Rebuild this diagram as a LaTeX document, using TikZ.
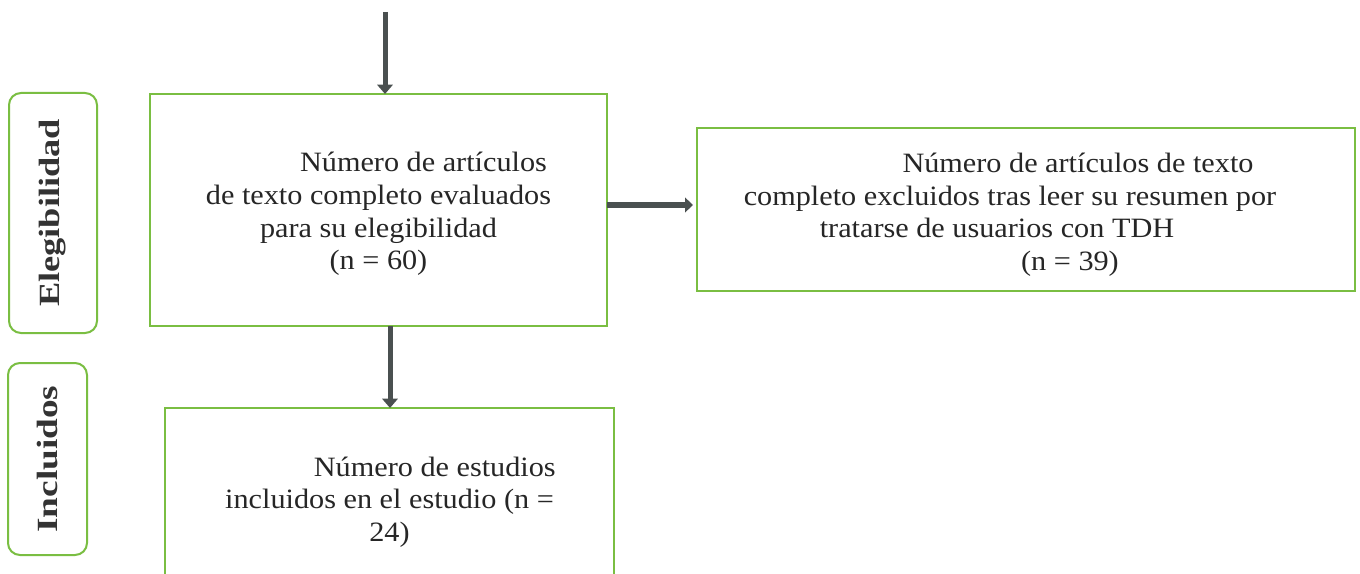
\documentclass[tikz,border=0pt]{standalone}
\usepackage{fontspec}
\setmainfont{Liberation Serif}
\newfontfamily\bodyfont{Liberation Serif}[FakeStretch=1.08]
\usepackage{graphicx}
\usetikzlibrary{arrows.meta}
\definecolor{boxgreen}{RGB}{122,190,66}
\definecolor{arrgray}{RGB}{74,80,80}
\begin{document}
\begin{tikzpicture}[x=0.75pt,y=-0.75pt,
  flowbox/.style={draw=boxgreen,line width=1.5pt,inner sep=0pt,outer sep=0pt},
  flowtext/.style={inner sep=0pt,align=center,font=\bodyfont\fontsize{21}{24.5}\selectfont,text=black!85},
  sidebox/.style={draw=boxgreen,line width=1.5pt,rounded corners=9pt,inner sep=0pt,outer sep=0pt},
  sidelabel/.style={rotate=90,inner sep=0pt,font=\bfseries\fontsize{22}{24}\selectfont,text=black!80},
  varr/.style={draw=arrgray,line width=3.75pt,-{Triangle[width=11.5pt,length=7pt]}},
  harr/.style={draw=arrgray,line width=5pt,-{Triangle[width=11pt,length=6pt]}}]
\useasboundingbox (0,0) rectangle (1360,574);
\clip (0,0) rectangle (1360,574);
\fill[white] (0,0) rectangle (1360,574);

\node[sidebox,minimum width=66pt,minimum height=180pt] (side1) at (53,213) {};
\node[sidelabel] (lab1) at (side1.center) {\scalebox{1.24}[1]{Elegibilidad}};
\node[sidebox,minimum width=59.25pt,minimum height=144pt] (side2) at (47.5,459) {};
\node[sidelabel] (lab2) at (side2.center) {\scalebox{1.27}[1]{Incluidos}};

\node[flowbox,minimum width=342.75pt,minimum height=174pt] (box1) at (378.5,210) {};
\node[flowtext,yshift=-3pt] (t1) at (box1.center)
  {\hspace*{67.5pt}Número de artículos\\de texto completo evaluados\\para su elegibilidad\\(n = 60)};
\node[flowbox,minimum width=493.5pt,minimum height=122.25pt] (box2) at (1026,209.5) {};
\node[flowtext,yshift=-4pt] (t2) at (box2.center)
  {\hspace*{78pt}Número de artículos de texto\\\hspace*{-24pt}completo excluidos tras leer su resumen por\\\hspace*{-43.5pt}tratarse de usuarios con TDH\\\hspace*{66pt}(n = 39)};
\node[flowbox,minimum width=336.75pt,minimum height=129pt] (box3) at (389.5,494) {};
\node[flowtext,yshift=-6pt] (t3) at (box3.center)
  {\hspace*{68pt}Número de estudios\\incluidos en el estudio (n =\\24)};

\coordinate (top) at (385,12);
\coordinate (dn) at (390,0);
\coordinate (hz) at (0,205);
\draw[varr] (top) -- (top |- box1.north);
\draw[varr] (dn |- box1.south) -- (dn |- box3.north);
\draw[harr,shorten >=3pt] (box1.east |- hz) -- (box2.west |- hz);
\end{tikzpicture}
\end{document}
